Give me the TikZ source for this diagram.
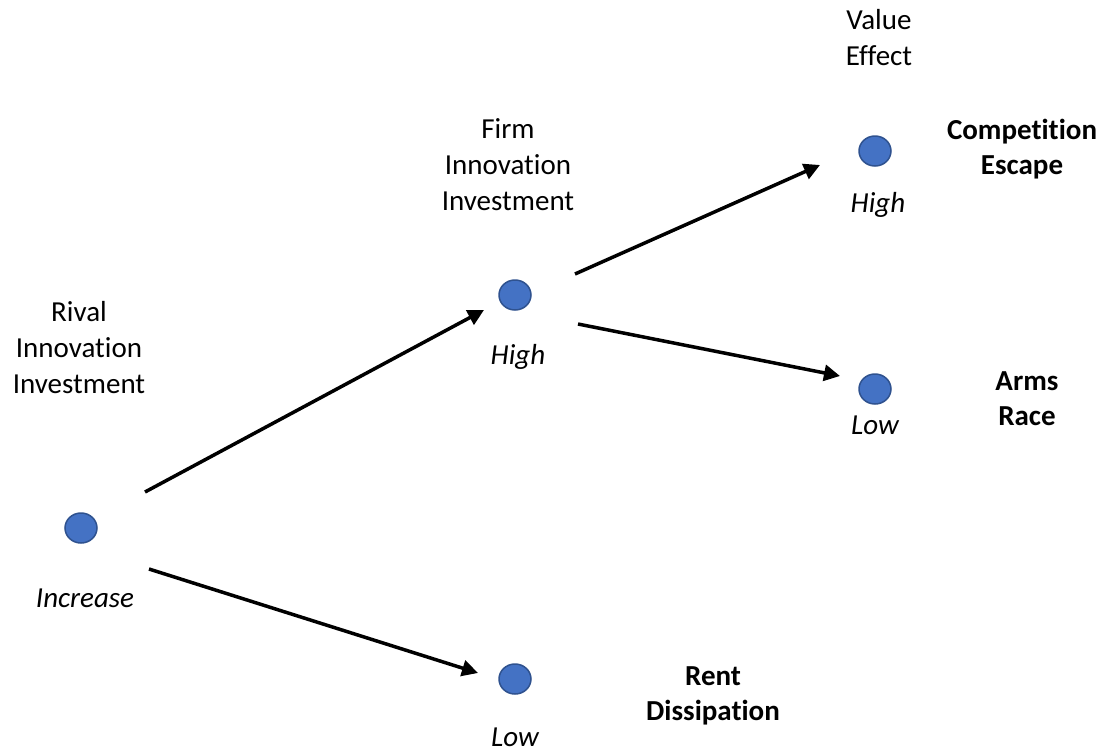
\documentclass[tikz,border=0pt]{standalone}
\usepackage{fontspec}
\setmainfont{Carlito}[Ligatures=NoCommon]
\usetikzlibrary{arrows.meta,shapes.geometric}
\definecolor{dotfill}{HTML}{4472C4}
\definecolor{dotline}{HTML}{2F528F}
\tikzset{
  dot/.style={ellipse, draw=dotline, fill=dotfill, line width=1.5pt, minimum width=32pt, minimum height=30pt, inner sep=0pt},
  conn/.style={line width=3.5pt, -{Triangle[length=16pt,width=16pt]}},
  lbl/.style={align=center, inner sep=0pt, anchor=base, font=\fontsize{29}{36}\selectfont},
  blbl/.style={lbl, font=\fontsize{29}{35}\selectfont\bfseries},
  ilbl/.style={lbl, font=\fontsize{29}{35}\selectfont\itshape},
}
\begin{document}
\begin{tikzpicture}[x=1pt,y=-1pt]
\useasboundingbox (0,0) rectangle (1104,753);
% dots
\node[dot] (c1) at (81,528) {};
\node[dot] (c2) at (515,295) {};
\node[dot] (c3) at (875,151) {};
\node[dot] (c4) at (875,389) {};
\node[dot] (c5) at (515,679) {};
% connector end points
\coordinate (a1s) at (145,492);
\coordinate (a1e) at (484,310);
\coordinate (a2s) at (149,569);
\coordinate (a2e) at (478,673);
\coordinate (a3s) at (575,274);
\coordinate (a3e) at (820,165);
\coordinate (a4s) at (578,324);
\coordinate (a4e) at (840,376);
\draw[conn] (a1s) -- (a1e);
\draw[conn] (a2s) -- (a2e);
\draw[conn] (a3s) -- (a3e);
\draw[conn] (a4s) -- (a4e);
% headings (base anchor = last line baseline)
\node[lbl] (rival) at (79,393) {Rival\\Innovation\\Investment};
\node[lbl] (firm) at (508,210) {Firm\\Innovation\\Investment};
\node[lbl] (value) at (879,65) {Value\\Effect};
% outcomes
\node[blbl] (comp) at (1022,174) {Competition\\Escape};
\node[blbl] (arms) at (1027,425) {Arms\\Race};
\node[blbl] (rent) at (713,720) {Rent\\Dissipation};
% level labels
\node[ilbl] (inc) at (85,607) {Increase};
\node[ilbl] (high1) at (518,364) {High};
\node[ilbl] (high2) at (878,212) {High};
\node[ilbl] (low1) at (875,434) {Low};
\node[ilbl] (low2) at (515,746) {Low};
\end{tikzpicture}
\end{document}
